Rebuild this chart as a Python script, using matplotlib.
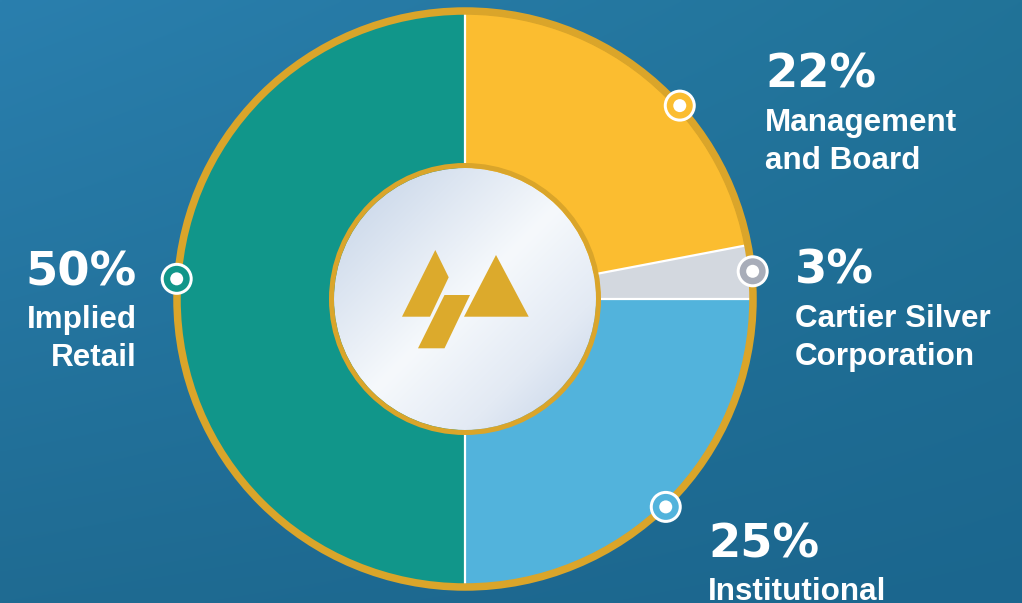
import numpy as np
import matplotlib
matplotlib.use("Agg")
import matplotlib.pyplot as plt
from matplotlib.patches import Circle, Polygon
from matplotlib.colors import LinearSegmentedColormap

# ownership split, clockwise from 12 o'clock
labels = ["Management\nand Board", "Cartier Silver\nCorporation", "Institutional", "Implied\nRetail"]
shares = [22, 3, 25, 50]
colors = ["#FBBD30", "#D3D8DF", "#52B3DC", "#11968A"]
ring_colors = ["#FBBD30", "#A8ADB9", "#52B3DC", "#11968A"]

W, H = 1022, 603
cx, cy = 465, H - 299          # pie centre in pixel units (y up)
R = 285                        # wedge radius
GOLD = "#DAA52A"

# where each callout dot sits on the rim (degrees) and its text anchor (pixels)
dot_angles = [42, 5.5, -46, 176]
text_pos = [(765, 88, "left"), (795, 284, "left"), (708, 557, "left"), (137, 285, "right")]

fig = plt.figure(figsize=(W / 100, H / 100), dpi=100)
ax = fig.add_axes([0, 0, 1, 1])

# background gradient
yy, xx = np.mgrid[0:1:200j, 0:1:300j]
tl = np.array([0x2a, 0x7f, 0xae]) / 255
tr = np.array([0x21, 0x73, 0x98]) / 255
bl = np.array([0x1f, 0x6b, 0x92]) / 255
br = np.array([0x1b, 0x66, 0x8e]) / 255
top = tl * (1 - xx[..., None]) + tr * xx[..., None]
bot = bl * (1 - xx[..., None]) + br * xx[..., None]
bg = top * (1 - yy[..., None]) + bot * yy[..., None]
ax.imshow(bg, extent=[0, W, 0, H], origin="upper", zorder=0, interpolation="bilinear")

wedges, _ = ax.pie(shares, colors=colors, startangle=90, counterclock=False,
                   center=(cx, cy), radius=R, frame=True,
                   wedgeprops=dict(linewidth=0))
for w in wedges:
    w.set_zorder(2)

# white separators between slices
for w in wedges:
    a = np.deg2rad(w.theta1)
    ax.plot([cx, cx + R * np.cos(a)], [cy, cy + R * np.sin(a)],
            color="white", linewidth=1.6, solid_capstyle="butt", zorder=2.5)

# gold rim
ax.add_patch(Circle((cx, cy), R + 3, fill=False, edgecolor=GOLD, linewidth=7.5 * 0.72, zorder=3))

# silver centre disc with diagonal sheen
r_in = 131
grad = np.linspace(0, 1, 300)
gx, gy = np.meshgrid(grad, grad)
t = (gx + gy) / 2
silver = LinearSegmentedColormap.from_list(
    "silver", ["#C1D1E6", "#DCE5F1", "#F6F9FC", "#E3EAF4", "#C3D2E7"])
img = ax.imshow(t, cmap=silver, extent=[cx - r_in, cx + r_in, cy - r_in, cy + r_in],
                origin="upper", zorder=4)
clip = Circle((cx, cy), r_in, transform=ax.transData, facecolor="none", edgecolor="none")
ax.add_patch(clip)
img.set_clip_path(clip)
ax.add_patch(Circle((cx, cy), r_in + 2.5, fill=False, edgecolor=GOLD, linewidth=5 * 0.72, zorder=5))

# logo
logo_color = "#DCAA2C"
logo = [
    [(435.3, 250), (448.7, 277.3), (430, 316.7), (402, 316.7)],
    [(444.5, 295), (470, 295), (444.5, 348.3), (418, 348.3)],
    [(496, 255), (528.7, 316.7), (464, 316.7)],
]
for shape in logo:
    ax.add_patch(Polygon([(x, H - y) for x, y in shape], closed=True,
                         facecolor=logo_color, edgecolor="none", zorder=6))

# callout dots and labels
for share, label, ring, ang, (tx, ty, ha) in zip(shares, labels, ring_colors, dot_angles, text_pos):
    a = np.deg2rad(ang)
    dx, dy = cx + (R + 4) * np.cos(a), cy + (R + 4) * np.sin(a)
    ax.add_patch(Circle((dx, dy), 16, facecolor="white", edgecolor="none", zorder=7))
    ax.add_patch(Circle((dx, dy), 13, facecolor=ring, edgecolor="none", zorder=8))
    ax.add_patch(Circle((dx, dy), 6.5, facecolor="white", edgecolor="none", zorder=9))

    ax.text(tx, H - ty, f"{share}%", ha=ha, va="baseline", color="white",
            fontsize=33.5, fontweight="bold", family="DejaVu Sans", zorder=10)
    for i, line in enumerate(label.split("\n")):
        ax.text(tx, H - ty - 43 - i * 38, line, ha=ha, va="baseline", color="white",
                fontsize=22.6, fontweight="bold", family="Liberation Sans", zorder=10)

ax.set_xlim(0, W)
ax.set_ylim(0, H)
ax.set_aspect("equal")
ax.axis("off")

fig.savefig("out.png", dpi=100)
